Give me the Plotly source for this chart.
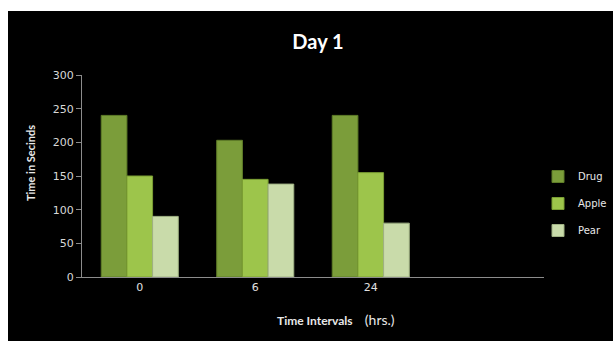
import plotly.graph_objects as go

# Time intervals (hrs.) and a trailing empty slot on the category axis
categories = ["0", "6", "24", ""]
drug = [240, 203, 240]
apple = [150, 145, 155]
pear = [90, 138, 80]
y_ticks = [0, 50, 100, 150, 200, 250, 300]

series = [
    ("Drug", drug, "#7b9d3a", "#5f7d28"),
    ("Apple", apple, "#9dc54b", "#7a9e33"),
    ("Pear", pear, "#c9dbaa", "#9fb183"),
]

FONT = "Lato, 'Open Sans', sans-serif"
TICK_FONT = "'DejaVu Sans', Verdana, sans-serif"

fig = go.Figure()
positions = list(range(len(drug)))
for name, vals, fill, edge in series:
    fig.add_trace(go.Bar(
        x=positions, y=vals, name=name,
        marker=dict(color=fill, line=dict(color=edge, width=1)),
        legendgroup=name,
    ))

W, H = 613, 341
L, R, T, B = 82, 69, 75, 64
pw, ph = W - L - R, H - T - B

def px(x):
    return (x - L) / pw

def py(y):
    return (H - B - y) / ph

fig.update_layout(
    width=W, height=H,
    margin=dict(l=L, r=R, t=T, b=B, autoexpand=False),
    paper_bgcolor="white",
    plot_bgcolor="#404040",
    barmode="group",
    bargap=0.333,
    bargroupgap=0,
    font=dict(family=FONT, color="#e8e8e8", size=12),
    title=dict(text="<b>Day 1</b>", x=318 / W, xref="container", xanchor="center",
               y=1 - 42 / H, yref="container", yanchor="middle",
               font=dict(size=20, color="white", family=FONT)),
    xaxis=dict(
        range=[-0.5, len(categories) - 0.5],
        tickvals=list(range(len(categories))), ticktext=categories,
        showgrid=False, zeroline=False,
        showline=True, linecolor="#8c8c8c", linewidth=1,
        ticks="", tickfont=dict(size=11, color="#e0e0e0", family=TICK_FONT),
    ),
    yaxis=dict(
        range=[0, 300], tickvals=y_ticks,
        showgrid=False, zeroline=False,
        showline=True, linecolor="#8c8c8c", linewidth=1,
        ticks="outside", ticklen=5, tickcolor="#8c8c8c",
        tickfont=dict(size=11, color="#d8d8d8", family=TICK_FONT),
    ),
    legend=dict(
        xref="container", yref="container",
        x=538 / W, y=1 - 162 / H, xanchor="left", yanchor="top",
        bgcolor="rgba(0,0,0,0)", tracegroupgap=8,
        font=dict(size=10, color="#e8e8e8", family=TICK_FONT),
        itemwidth=30,
    ),
    shapes=[dict(
        type="rect", xref="paper", yref="paper", layer="below",
        x0=px(8), x1=px(W + 5), y0=py(H + 5), y1=py(11),
        fillcolor="black", line=dict(width=0),
    )],
    annotations=[
        dict(text="<b>Time in Secinds</b>", textangle=-90,
             xref="paper", yref="paper", x=px(30), y=py(163),
             xanchor="center", yanchor="middle",
             showarrow=False, font=dict(size=11, color="#e8e8e8", family=FONT)),
        dict(text="<b>Time Intervals</b>&nbsp;&nbsp;&nbsp;&nbsp;<span style='font-size:14px'>(hrs.)</span>",
             xref="paper", yref="paper", x=px(336), y=py(319),
             xanchor="center", yanchor="middle",
             showarrow=False, font=dict(size=12, color="#e8e8e8", family=FONT)),
    ],
)

fig.write_html("out.html")
